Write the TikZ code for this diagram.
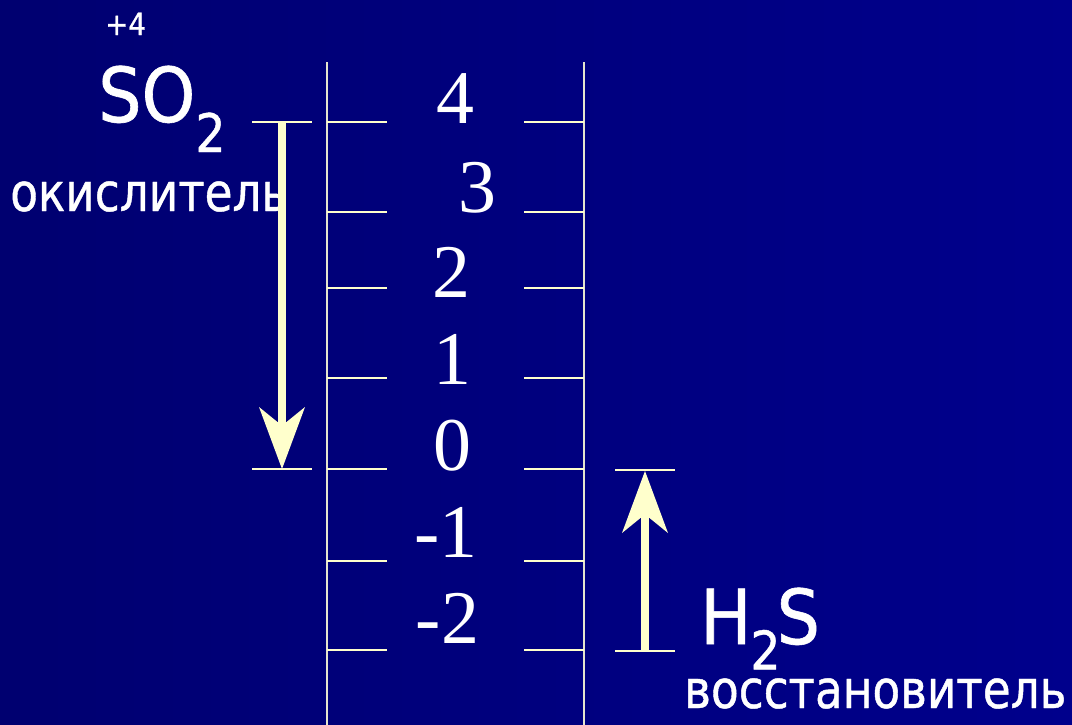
\documentclass[tikz,border=0pt]{standalone}
\usepackage{fontspec}
\setmainfont{Liberation Serif}
\newfontfamily\labfont[FakeStretch=0.95,FakeBold=0.8]{DejaVu Sans Condensed}
\newfontfamily\bigfont[FakeBold=0.8]{DejaVu Sans Condensed}
\usetikzlibrary{arrows.meta}
\definecolor{pale}{RGB}{255,255,204}
\definecolor{vline}{RGB}{228,228,205}
\definecolor{bgleft}{RGB}{0,0,112}
\definecolor{bgright}{RGB}{0,0,140}
\begin{document}
\begin{tikzpicture}[x=0.75pt,y=-0.75pt,
  tickline/.style={draw=pale,line width=2.1pt},
  scaleline/.style={draw=vline,line width=2.1pt},
  bigarrow/.style={draw=pale,line width=6.5pt,-{Stealth[length=46.5pt,width=34.5pt,inset=14pt,line width=0pt,fill=pale]}},
  num/.style={font=\fontsize{56.9}{60}\selectfont,text=white,inner sep=0pt,anchor=base},
  lab/.style={font=\labfont\fontsize{39.8}{44}\selectfont,text=white,inner sep=0pt,anchor=base west},
  big/.style={font=\bigfont\fontsize{56.9}{60}\selectfont,text=white,inner sep=0pt,anchor=base west},
  small/.style={font=\bigfont\fontsize{23}{25}\selectfont,text=white,inner sep=0pt,anchor=base west},
]
\shade[left color=bgleft,right color=bgright] (0,0) rectangle (1072,725);
\useasboundingbox (0,0) rectangle (1072,725);

% scale
\draw[scaleline] (327,62) -- (327,725);
\draw[scaleline] (584,62) -- (584,725);
\foreach \yy in {122,212,288,378,469,561,650}{
  \draw[tickline] (327,\yy) -- (387,\yy);
  \draw[tickline] (524,\yy) -- (584,\yy);
}

% numbers
\node[num] (n4) at (455,123) {4};
\node[num] (n3) at (477,212) {3};
\node[num] (n2) at (451.5,297) {2};
\node[num] (n1) at (452.5,384) {1};
\node[num] (n0) at (452.5,470) {0};
\node[num] (nm1) at (446,557) {-1};
\node[num] (nm2) at (447.5,643) {-2};

% SO2 side
\node[small] (plus4) at (105,35) {+4};
\node[big] (so2) at (98,122) {SO\raisebox{-22.5pt}{\fontsize{39.8}{44}\selectfont 2}};
\node[lab] (oxid) at (10,211) {окислитель};
\draw[tickline] (252,122) -- (312,122);
\draw[tickline] (252,469) -- (312,469);
\coordinate (soTop) at (282,122);
\coordinate (soBot) at (282,469);
\draw[bigarrow] (soTop) -- (soBot);

% H2S side
\draw[tickline] (615,470) -- (675,470);
\draw[tickline] (615,651) -- (675,651);
\coordinate (hsBot) at (645,651);
\coordinate (hsTop) at (645,471);
\draw[bigarrow] (hsBot) -- (hsTop);
\node[big] (h2s) at (700,644) {H\kern-1pt\raisebox{-19pt}{\fontsize{39.8}{44}\selectfont 2}\kern-3pt S};
\node[lab] (red) at (684,708) {восстановитель};
\end{tikzpicture}
\end{document}
